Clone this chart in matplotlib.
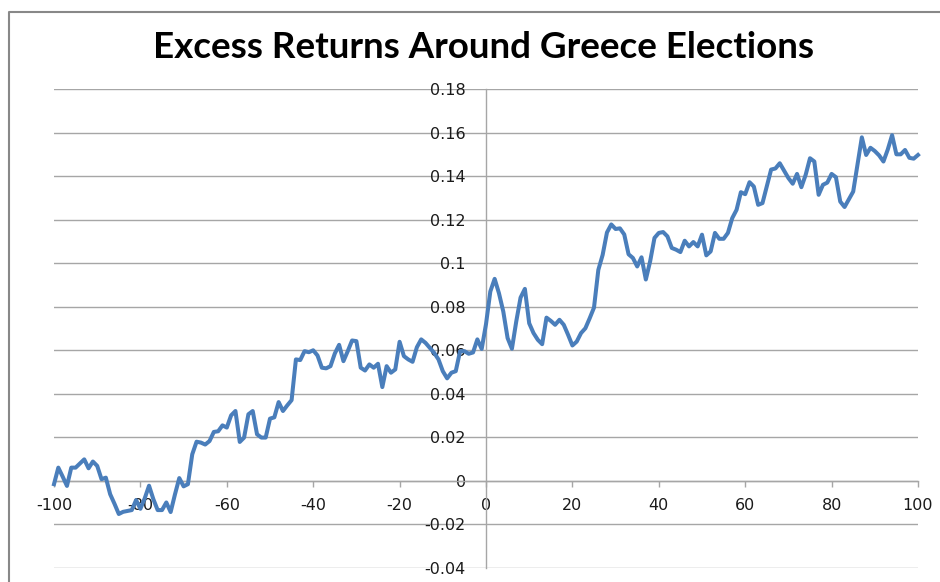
import matplotlib
matplotlib.use("Agg")
import matplotlib.pyplot as plt
from matplotlib.lines import Line2D
import numpy as np

title = "Excess Returns Around Greece Elections"

days = list(range(-100, 101))
excess_returns = [
    -0.0015, 0.0061, 0.0020, -0.0023, 0.0061, 0.0061, 0.0080, 0.0099, 0.0058, 0.0089,   # -100..-91
    0.0069, 0.0008, 0.0015, -0.0061, -0.0105, -0.0152, -0.0142, -0.0138, -0.0134, -0.0088,  # -90..-81
    -0.0128, -0.0080, -0.0022, -0.0084, -0.0134, -0.0134, -0.0099, -0.0143, -0.0062, 0.0013,  # -80..-71
    -0.0025, -0.0015, 0.0122, 0.0180, 0.0176, 0.0167, 0.0183, 0.0225, 0.0228, 0.0255,   # -70..-61
    0.0245, 0.0301, 0.0321, 0.0179, 0.0199, 0.0306, 0.0321, 0.0214, 0.0199, 0.0199,     # -60..-51
    0.0286, 0.0292, 0.0362, 0.0321, 0.0347, 0.0371, 0.0558, 0.0555, 0.0596, 0.0591,     # -50..-41
    0.0600, 0.0576, 0.0520, 0.0517, 0.0527, 0.0585, 0.0625, 0.0550, 0.0596, 0.0645,     # -40..-31
    0.0642, 0.0520, 0.0507, 0.0535, 0.0520, 0.0538, 0.0431, 0.0527, 0.0497, 0.0512,     # -30..-21
    0.0639, 0.0573, 0.0558, 0.0547, 0.0614, 0.0650, 0.0634, 0.0611, 0.0588, 0.0558,     # -20..-11
    0.0504, 0.0471, 0.0497, 0.0504, 0.0596, 0.0596, 0.0584, 0.0590, 0.0650, 0.0606,     # -10..-1
    0.0720,                                                                              # 0
    0.0870, 0.0928, 0.0862, 0.0778, 0.0656, 0.0607, 0.0732, 0.0842, 0.0882, 0.0724,     # 1..10
    0.0679, 0.0648, 0.0628, 0.0750, 0.0735, 0.0717, 0.0740, 0.0717, 0.0671, 0.0622,     # 11..20
    0.0640, 0.0679, 0.0701, 0.0747, 0.0796, 0.0969, 0.1038, 0.1141, 0.1178, 0.1157,     # 21..30
    0.1160, 0.1132, 0.1041, 0.1024, 0.0985, 0.1027, 0.0925, 0.1009, 0.1116, 0.1139,     # 31..40
    0.1143, 0.1123, 0.1070, 0.1062, 0.1051, 0.1103, 0.1077, 0.1097, 0.1077, 0.1131,     # 41..50
    0.1036, 0.1054, 0.1139, 0.1112, 0.1112, 0.1139, 0.1207, 0.1245, 0.1326, 0.1317,     # 51..60
    0.1372, 0.1352, 0.1268, 0.1276, 0.1352, 0.1430, 0.1435, 0.1459, 0.1425, 0.1391,     # 61..70
    0.1365, 0.1410, 0.1349, 0.1406, 0.1482, 0.1467, 0.1314, 0.1360, 0.1370, 0.1410,     # 71..80
    0.1395, 0.1283, 0.1258, 0.1294, 0.1329, 0.1452, 0.1578, 0.1497, 0.1530, 0.1515,     # 81..90
    0.1495, 0.1467, 0.1522, 0.1588, 0.1500, 0.1500, 0.1520, 0.1484, 0.1480, 0.1497,     # 91..100
]

x_ticks = [-100, -80, -60, -40, -20, 0, 20, 40, 60, 80, 100]
x_tick_labels = ["-100", "-80", "-60", "-40", "-20", "0", "20", "40", "60", "80", "100"]
y_ticks = [-0.04, -0.02, 0, 0.02, 0.04, 0.06, 0.08, 0.1, 0.12, 0.14, 0.16, 0.18]
y_tick_labels = ["-0.04", "-0.02", "0", "0.02", "0.04", "0.06", "0.08", "0.1",
                 "0.12", "0.14", "0.16", "0.18"]

W, H = 940, 582
fig = plt.figure(figsize=(W / 100, H / 100), dpi=100)
fig.patch.set_facecolor("white")

ax = fig.add_axes([54 / W, 1 - 568 / H, (918 - 54) / W, (568 - 89) / H])
ax.set_facecolor("none")

grid_c = "#A6A6A6"
ax.set_xlim(-100, 100)
ax.set_ylim(-0.04, 0.18)

ax.set_yticks(y_ticks)
ax.set_yticklabels(y_tick_labels)
ax.set_xticks(x_ticks)
ax.set_xticklabels(x_tick_labels)

ax.grid(axis="y", color=grid_c, linewidth=1.0)
ax.grid(axis="x", visible=False)

for s in ["top", "right"]:
    ax.spines[s].set_visible(False)
ax.spines["left"].set_position(("data", 0))
ax.spines["bottom"].set_position(("data", 0))
ax.spines["left"].set_color(grid_c)
ax.spines["bottom"].set_color(grid_c)
ax.spines["left"].set_linewidth(1.0)
ax.spines["bottom"].set_linewidth(1.0)

ax.tick_params(axis="y", length=0, pad=14.5, labelsize=11.5, labelcolor="#1a1a1a")
ax.tick_params(axis="x", direction="out", length=4.5, width=1.0, color=grid_c,
               pad=7.5, labelsize=11.5, labelcolor="#1a1a1a")
for lab in ax.get_xticklabels() + ax.get_yticklabels():
    lab.set_fontfamily("DejaVu Sans")

ax.plot(days, excess_returns, color="#4A7EBB", linewidth=2.9, solid_joinstyle="round",
        zorder=3, clip_on=False)

fig.text(483 / W, 1 - 47 / H, title, ha="center", va="center",
         fontsize=26.5, fontweight="bold", family=["Lato", "DejaVu Sans"], color="black")

# chart area border (only left and top visible)
fig.add_artist(Line2D([9 / W, 9 / W, 1.0], [0.0, 1 - 12 / H, 1 - 12 / H],
                      transform=fig.transFigure, color="#888888", linewidth=1.5))

fig.savefig("out.png", dpi=100, facecolor="white")
